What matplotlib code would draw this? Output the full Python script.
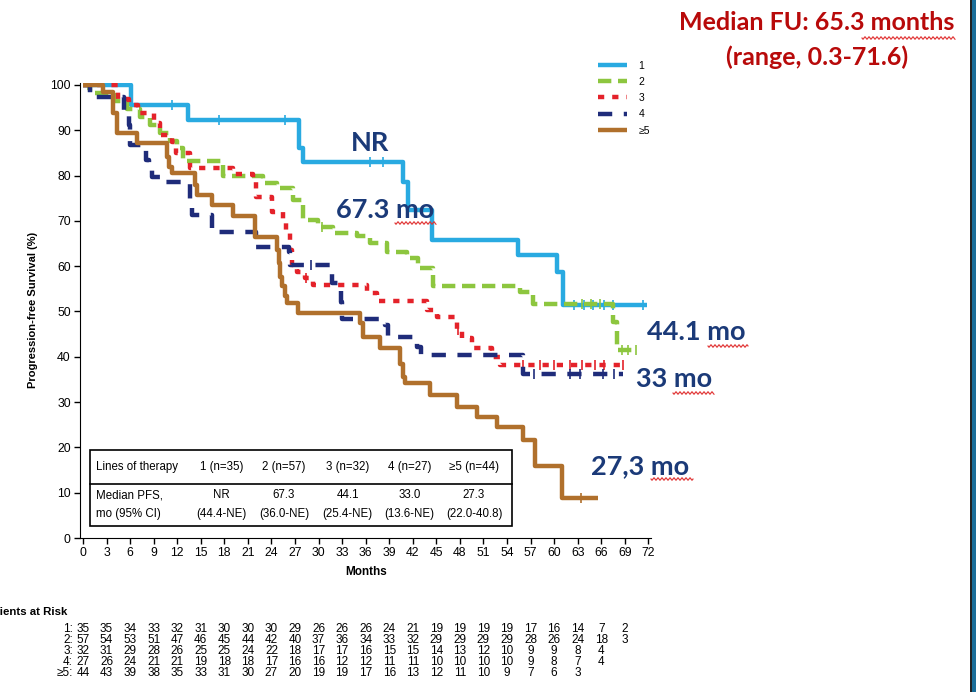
import matplotlib.pyplot as plt
import numpy as np
from matplotlib.patches import Rectangle
import matplotlib.transforms as mtransforms

plt.rcParams['font.family'] = ['Liberation Sans', 'DejaVu Sans']
fs = 8.3

#------------ courbes (mois, % PFS) ------------
t1 = [0, 6.1, 13.4, 27.5, 28.0, 40.8, 41.4, 44.5, 55.4, 60.4, 61.1, 71.8]
s1 = [100, 95.6, 92.3, 86.0, 83.0, 78.6, 72.4, 65.8, 62.5, 58.7, 51.4, 51.4]
c1 = [11.3, 17.3, 25.7, 36.6, 38.2, 62.5, 63.8, 65.0, 66.3, 67.5, 71.3]

t2 = [0, 0.9, 4.1, 5.6, 7.3, 8.5, 9.8, 11.1, 12.0, 12.7, 17.8, 22.9, 24.7, 26.7, 28.0,
      29.9, 31.8, 34.9, 36.6, 38.7, 41.3, 42.7, 44.6, 55.7, 57.3, 67.5, 68.0, 70.6]
s2 = [100, 98.2, 96.5, 94.7, 93.0, 91.2, 89.5, 87.7, 86.0, 83.2, 80.0, 78.4, 77.2, 74.6, 70.2,
      68.7, 67.3, 66.7, 65.1, 63.1, 61.8, 59.6, 55.6, 54.3, 51.7, 47.7, 41.5, 41.5]
c2 = [0.6, 30.5, 63.5, 64.7, 65.8, 68.6, 69.4, 70.4]

t3 = [0, 4.4, 5.8, 7.0, 9.0, 9.8, 11.3, 11.8, 13.6, 19.1, 21.7, 22.0, 24.1, 25.5, 25.8,
      26.4, 26.6, 27.3, 28.3, 29.3, 36.2, 37.5, 43.8, 45.1, 47.6, 48.3, 49.6, 52.1, 53.1, 69.0]
s3 = [100, 97.0, 95.5, 93.8, 91.6, 89.0, 87.4, 85.0, 81.7, 80.3, 78.6, 75.3, 72.0, 69.8, 67.3,
      63.6, 60.3, 58.7, 57.4, 55.8, 54.0, 52.3, 50.3, 48.8, 45.9, 44.1, 41.9, 40.0, 38.2, 38.2]
c3 = [28.4, 47.7, 56.0, 58.2, 60.0, 62.0, 63.6, 65.2, 66.4, 68.8]

t4 = [0, 0.9, 5.2, 5.8, 6.0, 8.0, 8.4, 8.8, 10.0, 13.6, 13.9, 16.4, 22.0, 26.2, 26.4,
      31.7, 32.8, 33.0, 38.5, 38.8, 42.6, 43.0, 56.1, 68.8]
s4 = [100, 97.4, 93.8, 91.2, 86.8, 83.4, 82.3, 79.7, 78.6, 74.6, 71.3, 67.5, 64.2, 63.1, 60.3,
      56.3, 52.0, 48.4, 47.0, 44.4, 42.2, 40.4, 36.3, 36.3]
c4 = [29.0, 57.5, 62.0, 63.3, 66.2, 67.6]

t5 = [0, 2.5, 3.8, 4.3, 6.9, 10.7, 11.0, 11.3, 14.3, 14.5, 16.4, 19.1, 21.9, 24.7, 24.9,
      25.1, 25.3, 25.7, 26.0, 27.4, 35.3, 35.7, 37.8, 40.4, 40.8, 41.0, 44.2, 47.6, 50.2,
      52.7, 56.1, 57.6, 61.0, 65.6]
s5 = [100, 98.5, 93.8, 89.5, 87.2, 84.0, 82.0, 80.6, 78.0, 75.7, 73.5, 71.1, 66.4, 63.6, 60.7,
      57.6, 55.6, 53.4, 51.9, 49.7, 47.5, 44.4, 41.9, 38.5, 35.5, 34.2, 31.6, 28.9, 26.7,
      24.4, 21.6, 16.0, 8.8, 8.8]
c5 = [63.4]

labels = ['1', '2', '3', '4', '≥5']
colors = ['#29aae1', '#8dc63f', '#e4222a', '#1f2c7a', '#b0702c']
styles = ['-', (0, (3.0, 1.5)), (0, (1.4, 1.8)), (0, (3.2, 2.6)), '-']

#------------ tableau des medianes ------------
col_head = ['1 (n=35)', '2 (n=57)', '3 (n=32)', '4 (n=27)', '≥5 (n=44)']
med_pfs = ['NR', '67.3', '44.1', '33.0', '27.3']
med_ci = ['(44.4-NE)', '(36.0-NE)', '(25.4-NE)', '(13.6-NE)', '(22.0-40.8)']

#------------ patients a risque ------------
risk_months = np.arange(0, 72, 3)
risk1 = [35, 35, 34, 33, 32, 31, 30, 30, 30, 29, 26, 26, 26, 24, 21, 19, 19, 19, 19, 17, 16, 14, 7, 2]
risk2 = [57, 54, 53, 51, 47, 46, 45, 44, 42, 40, 37, 36, 34, 33, 32, 29, 29, 29, 29, 28, 26, 24, 18, 3]
risk3 = [32, 31, 29, 28, 26, 25, 25, 24, 22, 18, 17, 17, 16, 15, 15, 14, 13, 12, 10, 9, 9, 8, 4]
risk4 = [27, 26, 24, 21, 21, 19, 18, 18, 17, 16, 16, 12, 12, 11, 11, 10, 10, 10, 10, 9, 8, 7, 4]
risk5 = [44, 43, 39, 38, 35, 33, 31, 30, 27, 20, 19, 19, 17, 16, 13, 12, 11, 10, 9, 7, 6, 3]

curves = [(t1, s1, c1), (t2, s2, c2), (t3, s3, c3), (t4, s4, c4), (t5, s5, c5)]
risks = [risk1, risk2, risk3, risk4, risk5]


def surv_at(t, times, vals):
    idx = np.searchsorted(times, t, side='right') - 1
    return np.asarray(vals)[idx]


def squiggle(fig, x0, x1, y, color='#e03030'):
    # petit soulignement ondule (correcteur d'orthographe), en pixels
    xs = np.linspace(x0, x1, int((x1 - x0) * 2))
    ys = y + 1.2 * np.sin((xs - x0) * 2 * np.pi / 4.0)
    fig.add_artist(plt.Line2D(xs / 979, 1 - ys / 692, transform=fig.transFigure,
                              color=color, lw=0.8))


fig = plt.figure(figsize=(9.79, 6.92), dpi=100)
ax = fig.add_axes([0.0816, 0.2225, 0.5838, 0.6580])

handles = []
for (tt, ss, cc), col, ls, lab in zip(curves, colors, styles, labels):
    h, = ax.plot(tt, ss, drawstyle='steps-post', color=col, lw=3.2, ls=ls,
                 solid_capstyle='butt', dash_capstyle='butt', label=lab)
    handles.append(h)
    ax.plot(cc, surv_at(np.array(cc), tt, ss), ls='none', marker='|', ms=7,
            mew=1.2, color=col)

ax.set_xlim(-0.4, 72.4)
ax.set_ylim(0, 100.5)
ax.set_xticks(np.arange(0, 73, 3))
ax.set_yticks(np.arange(0, 101, 10))
ax.spines['top'].set_visible(False)
ax.spines['right'].set_visible(False)
ax.tick_params(direction='out', length=4, width=1, pad=2.5, labelsize=8.8)
ax.set_xlabel('Months', fontsize=8.5, fontweight='bold', labelpad=5)
ax.set_ylabel('Progression-free Survival (%)', fontsize=8, fontweight='bold', labelpad=9)

fig.legend(handles, labels, loc='upper left', bbox_to_anchor=(0.601, 0.926),
           frameon=False, fontsize=7.5, handlelength=2.8, handletextpad=1.1,
           labelspacing=0.6)

# tableau median PFS
ax.add_patch(Rectangle((0.9, 2.6), 53.7, 16.9, fill=False, lw=1.2, ec='black'))
ax.plot([0.9, 54.6], [12.0, 12.0], color='black', lw=1.2)
ax.text(1.7, 15.7, 'Lines of therapy', fontsize=fs, va='center')
ax.text(1.7, 9.4, 'Median PFS,', fontsize=fs, va='center')
ax.text(1.7, 5.4, 'mo (95% CI)', fontsize=fs, va='center')
col_x = [17.6, 25.6, 33.7, 41.6, 49.8]
for x, hd, m, ci in zip(col_x, col_head, med_pfs, med_ci):
    ax.text(x, 15.7, hd, fontsize=fs, ha='center', va='center')
    ax.text(x, 9.4, m, fontsize=fs, ha='center', va='center')
    ax.text(x, 5.4, ci, fontsize=fs, ha='center', va='center')

# annotations des medianes
navy = '#1b3a78'
big = dict(family=['Lato', 'DejaVu Sans'], fontweight='bold', fontsize=19.5, color=navy)
ax.text(36.6, 87.2, 'NR', ha='center', va='center', **big)
ax.text(38.5, 72.4, '67.3 mo', ha='center', va='center', **big)
ax.text(71.8, 45.5, '44.1 mo', ha='left', va='center', clip_on=False, **big)
ax.text(70.4, 35.1, '33 mo', ha='left', va='center', clip_on=False, **big)
ax.text(64.7, 15.9, '27,3 mo', ha='left', va='center', clip_on=False, **big)

red = dict(family=['Lato', 'DejaVu Sans'], fontweight='bold', fontsize=18, color='#b80a0a')
fig.text(817 / 979, 1 - 23 / 692, 'Median FU: 65.3 months', ha='center', va='center', **red)
fig.text(817 / 979, 1 - 57 / 692, '(range, 0.3-71.6)', ha='center', va='center', **red)

squiggle(fig, 862, 955, 38)
squiggle(fig, 395, 436, 223)
squiggle(fig, 708, 748, 346)
squiggle(fig, 673, 714, 393)
squiggle(fig, 651, 693, 479)

# patients a risque
trans = mtransforms.blended_transform_factory(ax.transData, fig.transFigure)
fig.text(67 / 979, 1 - 612 / 692, 'Patients at Risk', ha='right', va='center',
         fontsize=8.2, fontweight='bold')
row_y = [629, 640, 651, 662, 673]
for lab, rr, py in zip(labels, risks, row_y):
    fig.text(73 / 979, 1 - py / 692, lab + ':', ha='right', va='center', fontsize=8.5)
    for m, n in zip(risk_months, rr):
        ax.text(m, 1 - py / 692, str(n), transform=trans, ha='center', va='center',
                fontsize=8.5, clip_on=False)

# bord de diapositive a droite
fig.add_artist(Rectangle((970 / 979, 0), 2.5 / 979, 1, transform=fig.transFigure,
                         color='#222222', lw=0))
fig.add_artist(Rectangle((972.5 / 979, 0), 3.5 / 979, 1, transform=fig.transFigure,
                         color='#1b6d98', lw=0))

fig.savefig('out.png', dpi=100)
